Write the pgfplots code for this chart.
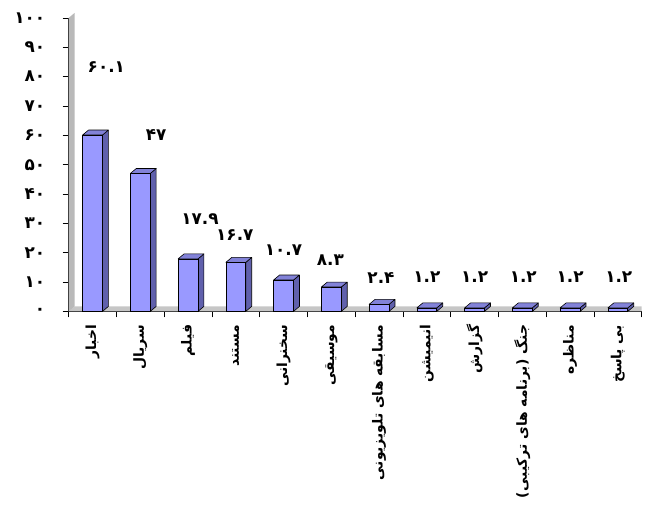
\documentclass[border=0pt]{standalone}
\usepackage{pgfplots}
\pgfplotsset{compat=1.18}
\usepackage{fontspec}
\TeXXeTstate=1
\newfontfamily\fa[Script=Arabic]{DejaVu Sans}
\definecolor{barfront}{HTML}{9999FF}
\definecolor{barside}{HTML}{6060AC}
\definecolor{bartop}{HTML}{8282D8}
\begin{document}
\begin{tikzpicture}
\begin{axis}[
  scale only axis, width=576bp, height=295bp,
  xmin=-0.5, xmax=11.5, ymin=0, ymax=100,
  axis x line*=bottom, axis y line*=left,
  axis line style={line width=0.8pt},
  clip=false,
  ytick={0,10,...,100},
  yticklabels={۰,۱۰,۲۰,۳۰,۴۰,۵۰,۶۰,۷۰,۸۰,۹۰,۱۰۰},
  y tick label style={font=\fa\bfseries\fontsize{17}{19}\selectfont},
  yticklabel shift=14bp,
  xtick={-0.5,0.5,...,11.5},
  xticklabels={},
  tick align=outside, major tick length=6bp,
  tick style={black, line width=0.6pt},
  extra x ticks={0,1,...,11},
  extra x tick labels={{\beginR اخبار\endR},{\beginR سریال\endR},{\beginR فیلم\endR},{\beginR مستند\endR},{\beginR سخنرانی\endR},{\beginR موسیقی\endR},{\beginR مسابقه های تلویزیونی\endR},{\beginR انیمیشن\endR},{\beginR گزارش\endR},{\beginR جنگ (برنامه های ترکیبی)\endR},{\beginR مناظره\endR},{\beginR بی پاسخ\endR}},
  extra x tick style={major tick length=0pt, xticklabel shift=10bp,
    tick label style={rotate=90, anchor=east, font=\fa\bfseries\fontsize{14}{16}\selectfont}},
  nodes near coords style={font=\fa\bfseries\fontsize{17}{19}\selectfont, anchor=center},
]
% floor and left wall of the 3D frame
\fill[gray!45] (axis cs:-0.5,0) -- (axis cs:11.5,0) -- ([yshift=5bp]axis cs:11.5,0) -- ([xshift=6bp,yshift=5bp]axis cs:-0.5,0) -- cycle;
\fill[gray!55] (axis cs:-0.5,0) -- (axis cs:-0.5,100) -- ([xshift=6bp,yshift=5bp]axis cs:-0.5,100) -- ([xshift=6bp,yshift=5bp]axis cs:-0.5,0) -- cycle;
% 3D bars: each drawn as a box hanging down from its data point (2.95bp per unit)
\addplot[
  scatter, only marks, mark=*, mark size=0pt,
  scatter/use mapped color={draw=none, fill=none},
  visualization depends on={rawy \as \rawy},
  scatter/@pre marker code/.code={%
    \pgfmathsetlengthmacro\hh{\rawy*2.95bp}%
    \fill[barside, draw=black, line width=0.6pt, line join=round]
      (10bp,0pt) -- (16bp,5bp) -- (16bp,{5bp-\hh}) -- (10bp,-\hh) -- cycle;
    \fill[bartop, draw=black, line width=0.6pt, line join=round]
      (-10bp,0pt) -- (10bp,0pt) -- (16bp,5bp) -- (-4bp,5bp) -- cycle;
    \fill[barfront, draw=black, line width=0.6pt]
      (-10bp,-\hh) rectangle (10bp,0pt);
  },
  scatter/@post marker code/.code={},
]
  coordinates {(0,60.1) (1,47) (2,17.9) (3,16.7) (4,10.7) (5,8.3) (6,2.4) (7,1.2) (8,1.2) (9,1.2) (10,1.2) (11,1.2)};
\addplot[draw=none, mark=none, nodes near coords, point meta=explicit symbolic]
  coordinates {(0.29,83.4)[۶۰.۱] (1.33,60.0)[۴۷] (2.25,31.5)[۱۷.۹] (2.98,26.1)[۱۶.۷] (4.0,20.7)[۱۰.۷] (4.98,17.3)[۸.۳] (6.04,11.5)[۲.۴] (7.0,11.5)[۱.۲] (8.0,11.5)[۱.۲] (9.02,11.5)[۱.۲] (10.0,11.5)[۱.۲] (11.02,11.5)[۱.۲]};
\path (rel axis cs:0,0) ++(-69bp,-197bp);
\path (rel axis cs:1,1) ++(0bp,18bp);
\end{axis}
\end{tikzpicture}
\end{document}
